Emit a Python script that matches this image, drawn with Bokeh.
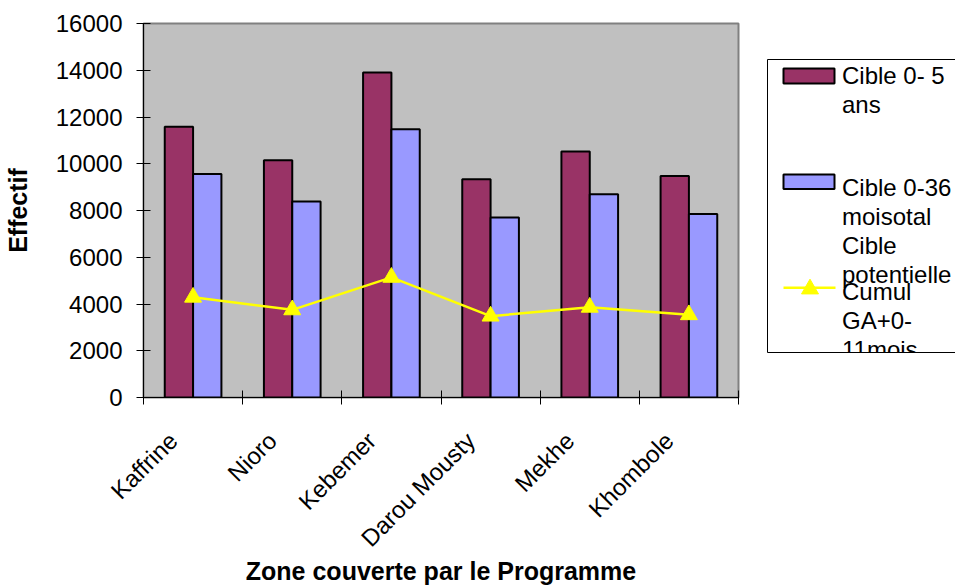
import numpy as np
from bokeh.plotting import figure
from bokeh.layouts import row
from bokeh.models import Range1d, FixedTicker, CustomJSTickFormatter
from bokeh.core.properties import value
from bokeh.embed import file_html
from bokeh.resources import INLINE

# --- data -------------------------------------------------------------
zones = ["Kaffrine", "Nioro", "Kebemer", "Darou Mousty", "Mekhe", "Khombole"]
cible_0_5 = [11580, 10150, 13900, 9340, 10520, 9480]
cible_0_36 = [9560, 8390, 11480, 7700, 8700, 7850]
cumul_ga = [4290, 3750, 5140, 3480, 3860, 3540]
y_ticks = [0, 2000, 4000, 6000, 8000, 10000, 12000, 14000, 16000]

legend_labels = [
    ["Cible 0- 5", "ans"],
    ["Cible 0-36", "moisotal", "Cible", "potentielle"],
    ["Cumul", "GA+0-", "11mois"],
]

FONT = "Liberation Sans"
MAROON = "#993366"
LAVENDER = "#9999FF"
YELLOW = "#FFFF00"

TOP, BOTTOM = 23, 191          # outer borders shared by both panels
FRAME_TOP, FRAME_BOTTOM = 23, 397

# --- main chart -------------------------------------------------------
n = len(zones)
centers = np.arange(n) + 0.5
bar_w = 1.0 / 3.5
offset = bar_w / 2

p = figure(width=766, height=588, x_range=Range1d(0, n), y_range=Range1d(0, 16000),
           output_backend="svg", toolbar_location=None,
           min_border_left=139, min_border_right=28, min_border_top=TOP, min_border_bottom=BOTTOM)
p.background_fill_color = "#C0C0C0"
p.border_fill_color = "white"
p.outline_line_color = "#808080"
p.outline_line_width = 2
p.xgrid.visible = False
p.ygrid.visible = False

p.vbar(x=centers - offset, top=cible_0_5, width=bar_w, fill_color=MAROON,
       line_color="black", line_width=2)
p.vbar(x=centers + offset, top=cible_0_36, width=bar_w, fill_color=LAVENDER,
       line_color="black", line_width=2)
p.line(centers, cumul_ga, line_color=YELLOW, line_width=2.5)
p.scatter(centers, cumul_ga, marker="triangle", size=17, fill_color=YELLOW, line_color=YELLOW)

# y axis
ya = p.yaxis[0]
ya.ticker = FixedTicker(ticks=y_ticks)
ya.axis_line_color = "black"
ya.major_tick_in = 7
ya.major_tick_out = 7
ya.minor_tick_line_color = None
ya.major_label_text_font = FONT
ya.major_label_text_font_size = "24px"
ya.major_label_text_color = "black"
ya.major_label_standoff = 14
ya.axis_label = "Effectif"
ya.axis_label_text_font = FONT
ya.axis_label_text_font_style = "bold"
ya.axis_label_text_font_size = "25px"
ya.axis_label_text_color = "black"
ya.axis_label_standoff = 21

# x axis: slanted names hang left of each group centre, tick marks on boundaries
label_shift = 0.2
xa = p.xaxis[0]
xa.ticker = FixedTicker(ticks=list(centers - label_shift), minor_ticks=list(range(n + 1)))
xa.formatter = CustomJSTickFormatter(args=dict(names=zones),
                                     code="return names[Math.floor(tick)];")
xa.axis_line_color = "black"
xa.major_tick_line_color = None
xa.major_tick_in = 0
xa.major_tick_out = 7
xa.minor_tick_line_color = "black"
xa.minor_tick_in = 7
xa.minor_tick_out = 7
xa.major_label_orientation = np.pi / 4
xa.major_label_text_font = FONT
xa.major_label_text_font_size = "24px"
xa.major_label_text_color = "black"
xa.major_label_standoff = 32
xa.axis_label = "Zone couverte par le Programme"
xa.axis_label_text_font = FONT
xa.axis_label_text_font_style = "bold"
xa.axis_label_text_font_size = "25px"
xa.axis_label_text_color = "black"
xa.axis_label_standoff = -7

# --- legend panel (data units equal screen pixels) -------------------------
q = figure(width=189, height=588, x_range=Range1d(766, 955),
           y_range=Range1d(FRAME_BOTTOM, FRAME_TOP),
           output_backend="svg", toolbar_location=None, x_axis_type=None, y_axis_type=None,
           min_border_left=0, min_border_right=0, min_border_top=TOP, min_border_bottom=BOTTOM)
q.outline_line_color = None
q.background_fill_color = "white"
q.border_fill_color = "white"
q.xgrid.visible = False
q.ygrid.visible = False

box_left, box_top, box_bottom = 767, 59, 352
text_x = 841.5
line_h = 29
first_baselines = [74.5, 186.5, 290.5]

xs, ys, texts = [], [], []
for lines, b0 in zip(legend_labels, first_baselines):
    for k, t in enumerate(lines):
        xs.append(text_x)
        ys.append(b0 + k * line_h)
        texts.append(t)
q.text(x=xs, y=ys, text=texts, text_font=value(FONT), text_font_size="24px",
       text_baseline="alphabetic", text_align="left", text_color="black")

# label overflow is cut at the box edge
q.quad(left=box_left + 1, right=960, top=box_bottom + 0.5, bottom=420,
       fill_color="white", line_color=None)

q.quad(left=783, right=834, top=68, bottom=83, fill_color=MAROON,
       line_color="black", line_width=2)
q.quad(left=783, right=834, top=174, bottom=188.5, fill_color=LAVENDER,
       line_color="black", line_width=2)
q.segment(x0=[783], y0=[287.3], x1=[835], y1=[287.3], line_color=YELLOW, line_width=2.5)
q.scatter(x=[809.5], y=[288.5], marker="triangle", size=17, fill_color=YELLOW, line_color=YELLOW)

q.segment(x0=[box_left, box_left, box_left], y0=[box_top, box_top, box_bottom],
          x1=[box_left, 960, 960], y1=[box_bottom, box_top, box_bottom],
          line_color="black", line_width=1)

layout = row(p, q)
open("out.html", "w").write(file_html(layout, INLINE))
